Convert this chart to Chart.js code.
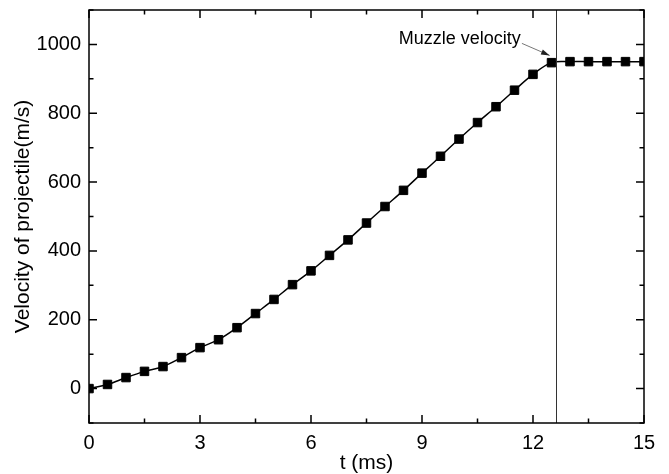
<!DOCTYPE html>
<html>
<head>
<meta charset="utf-8">
<script src="https://cdn.jsdelivr.net/npm/chart.js@4.4.1/dist/chart.umd.min.js"></script>
<style>
  html, body { margin: 0; padding: 0; background: #fff; }
</style>
</head>
<body>
<canvas id="chart" width="669" height="474"></canvas>
<script>
// time (ms) and projectile velocity (m/s)
const timeMs = [0, 0.5, 1, 1.5, 2, 2.5, 3, 3.5, 4, 4.5, 5, 5.5, 6, 6.5, 7, 7.5,
  8, 8.5, 9, 9.5, 10, 10.5, 11, 11.5, 12, 12.5, 13, 13.5, 14, 14.5, 15];
const velocity = [0, 12, 32, 50, 64, 90, 119, 142, 177, 218, 259, 302, 342, 387, 432, 481,
  529, 576, 626, 675, 725, 773, 819, 867, 913, 947, 950, 950, 950, 950, 950];

const muzzleTime = 12.62;          // vertical marker line
const annotText = 'Muzzle velocity';
const annotAt = [11.67, 1015];     // right end of the label [t, v]
const arrowFrom = [11.7, 1003];
const arrowTo = [12.45, 968];

const FONT = "'Liberation Sans', Arial, sans-serif";

const points = timeMs.map((t, i) => ({ x: t, y: velocity[i] }));

// ticks pointing into the plot, on all four sides, plus frame
const frameTicks = {
  id: 'frameTicks',
  afterDraw(chart) {
    const { ctx, chartArea: a, scales } = chart;
    ctx.save();
    ctx.strokeStyle = '#000';
    ctx.lineWidth = 1.5;
    scales.x.ticks.forEach(tk => {
      const px = scales.x.getPixelForValue(tk.value);
      const len = Math.abs(tk.value % 3) < 1e-6 ? 8 : 4.5;
      ctx.beginPath();
      ctx.moveTo(px, a.bottom); ctx.lineTo(px, a.bottom - len);
      ctx.moveTo(px, a.top); ctx.lineTo(px, a.top + len);
      ctx.stroke();
    });
    scales.y.ticks.forEach(tk => {
      const py = scales.y.getPixelForValue(tk.value);
      const len = Math.abs(tk.value % 200) < 1e-6 ? 8 : 4.5;
      ctx.beginPath();
      ctx.moveTo(a.left, py); ctx.lineTo(a.left + len, py);
      ctx.moveTo(a.right, py); ctx.lineTo(a.right - len, py);
      ctx.stroke();
    });
    ctx.strokeRect(a.left, a.top, a.right - a.left, a.bottom - a.top);
    ctx.restore();
  }
};

// vertical line and the "Muzzle velocity" label with arrow
const muzzleNote = {
  id: 'muzzleNote',
  afterDatasetsDraw(chart) {
    const { ctx, chartArea: a, scales: { x, y } } = chart;
    ctx.save();
    const lx = Math.round(x.getPixelForValue(muzzleTime)) + 0.5;
    ctx.strokeStyle = '#333';
    ctx.lineWidth = 1;
    ctx.beginPath();
    ctx.moveTo(lx, a.top); ctx.lineTo(lx, a.bottom);
    ctx.stroke();

    const x0 = x.getPixelForValue(arrowFrom[0]), y0 = y.getPixelForValue(arrowFrom[1]);
    const x1 = x.getPixelForValue(arrowTo[0]), y1 = y.getPixelForValue(arrowTo[1]);
    ctx.strokeStyle = '#777';
    ctx.fillStyle = '#222';
    ctx.beginPath();
    ctx.moveTo(x0, y0); ctx.lineTo(x1, y1);
    ctx.stroke();
    const ang = Math.atan2(y1 - y0, x1 - x0);
    ctx.beginPath();
    ctx.moveTo(x1, y1);
    ctx.lineTo(x1 - 9 * Math.cos(ang - 0.3), y1 - 9 * Math.sin(ang - 0.3));
    ctx.lineTo(x1 - 9 * Math.cos(ang + 0.3), y1 - 9 * Math.sin(ang + 0.3));
    ctx.closePath();
    ctx.fill();

    ctx.fillStyle = '#000';
    ctx.font = '18px ' + FONT;
    ctx.textAlign = 'right';
    ctx.textBaseline = 'middle';
    ctx.fillText(annotText, x.getPixelForValue(annotAt[0]), y.getPixelForValue(annotAt[1]));
    ctx.restore();
  }
};

new Chart(document.getElementById('chart'), {
  type: 'line',
  data: {
    datasets: [{
      data: points,
      borderColor: '#000',
      borderWidth: 1.5,
      backgroundColor: '#000',
      pointStyle: 'rect',
      pointRadius: 6,
      pointBorderWidth: 1,
      pointBackgroundColor: '#000',
      pointBorderColor: '#000',
      tension: 0.35,
      clip: 0
    }]
  },
  options: {
    responsive: false,
    animation: false,
    events: [],
    layout: { padding: { left: 0, top: 10, right: 25, bottom: 0 } },
    plugins: { legend: { display: false }, tooltip: { enabled: false } },
    scales: {
      x: {
        type: 'linear',
        min: 0, max: 15,
        grid: { display: false, drawTicks: false },
        border: { display: false },
        afterFit(s) { s.height = 51; s.paddingLeft = 0; s.paddingRight = 0; },
        ticks: {
          stepSize: 1.5,
          padding: 8,
          color: '#000',
          font: { family: FONT, size: 20 },
          maxRotation: 0,
          autoSkip: false,
          callback: v => (Math.abs(v % 3) < 1e-6 ? String(v) : '')
        },
        title: {
          display: true,
          text: 't (ms)',
          color: '#000',
          font: { family: FONT, size: 21, lineHeight: 1 },
          padding: 0
        }
      },
      y: {
        min: -100, max: 1100,
        grid: { display: false, drawTicks: false },
        border: { display: false },
        afterFit(s) { s.width = 89; s.paddingTop = 0; s.paddingBottom = 0; },
        ticks: {
          stepSize: 100,
          padding: 8,
          color: '#000',
          font: { family: FONT, size: 20 },
          autoSkip: false,
          callback: v => (v % 200 === 0 ? String(v) : '')
        },
        title: {
          display: true,
          text: 'Velocity of projectile(m/s)',
          color: '#000',
          font: { family: FONT, size: 21, lineHeight: 1.2 },
          padding: { top: 11, bottom: 0 }
        }
      }
    }
  },
  plugins: [frameTicks, muzzleNote]
});
</script>
</body>
</html>
